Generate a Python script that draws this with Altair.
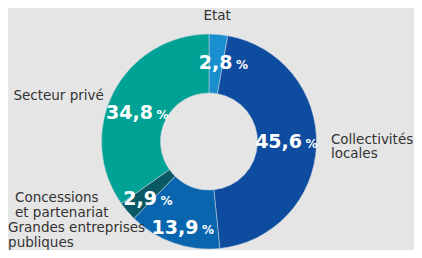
import altair as alt
import pandas as pd

categories = ["Etat", "Collectivités locales", "Grandes entreprises publiques",
              "Concessions et partenariat", "Secteur privé"]
cat_text = ["Etat", "Collectivités\nlocales", "Grandes entreprises\npubliques",
            "Concessions\net partenariat", "Secteur privé"]
values = [2.8, 45.6, 13.9, 2.9, 34.8]
colors = ["#1a8fd0", "#0e4ca0", "#0966ae", "#0b5865", "#00a295"]

df = pd.DataFrame({
    "idx": list(range(len(categories))),
    "cat": categories,
    "label": cat_text,
    "val": values,
    "num": [f"{v:.1f}".replace(".", ",") for v in values],
})

W, H = 406, 242
CX, CY = 201, 133.5
BG = "#e5e5e5"
FONT = "DejaVu Sans"

# layout offsets (pixels) for labels
val_off = {
    "Etat": (18, 0), "Collectivités locales": (14.6, -3.7),
    "Grandes entreprises publiques": (17.4, 9.7),
    "Concessions et partenariat": (10.3, 4.8), "Secteur privé": (16.5, 7),
}
cat_off = {
    "Etat": (-2, -11, "center"), "Collectivités locales": (7, -6, "left"),
    "Grandes entreprises publiques": (-163, -22, "left"),
    "Concessions et partenariat": (-106.6, -18, "left"),
    "Secteur privé": (-3, 7.5, "right"),
}

theta_scale = alt.Scale(domain=[0, 100], range=[0, 6.283185307])
color_scale = alt.Scale(domain=categories, range=colors)

base = alt.Chart(df).transform_stack(
    stack="val", as_=["v0", "v1"], groupby=[], sort=[alt.SortField("idx")]
).transform_calculate(mid="(datum.v0 + datum.v1) / 2")

arcs = base.mark_arc(outerRadius=107.5, innerRadius=48.5, stroke="#cfd8e0",
                     strokeWidth=0.5).encode(
    theta=alt.Theta("v0:Q", scale=theta_scale),
    theta2="v1:Q",
    color=alt.Color("cat:N", scale=color_scale, legend=None),
    x=alt.value(CX), y=alt.value(CY),
)

layers = [arcs]
for c in categories:
    dx, dy = val_off[c]
    sub = base.transform_filter(alt.datum.cat == c)
    enc = dict(theta=alt.Theta("mid:Q", scale=theta_scale),
               x=alt.value(CX), y=alt.value(CY))
    layers.append(sub.mark_text(radius=80, align="right", baseline="alphabetic",
                                dx=dx - 1.5, dy=dy + 7, font=FONT, fontSize=19,
                                fontWeight="bold", color="white").encode(
        text="num:N", **enc))
    layers.append(sub.mark_text(radius=80, align="left", baseline="alphabetic",
                                dx=dx + 2, dy=dy + 7, font=FONT, fontSize=12,
                                fontWeight="bold", color="white").encode(
        text=alt.value("%"), **enc))
    cdx, cdy, al = cat_off[c]
    layers.append(sub.mark_text(radius=115, align=al, baseline="middle",
                                dx=cdx, dy=cdy, font=FONT, fontSize=13.5,
                                lineHeight=14.5, lineBreak="\n",
                                color="#333333").encode(
        text="label:N", **enc))

chart = alt.layer(*layers).properties(
    width=W, height=H, background=BG, padding=0,
    autosize=alt.AutoSizeParams(type="none"),
).configure_view(stroke=None)

chart.save("out.html", embed_options={"renderer": "svg", "actions": False})
